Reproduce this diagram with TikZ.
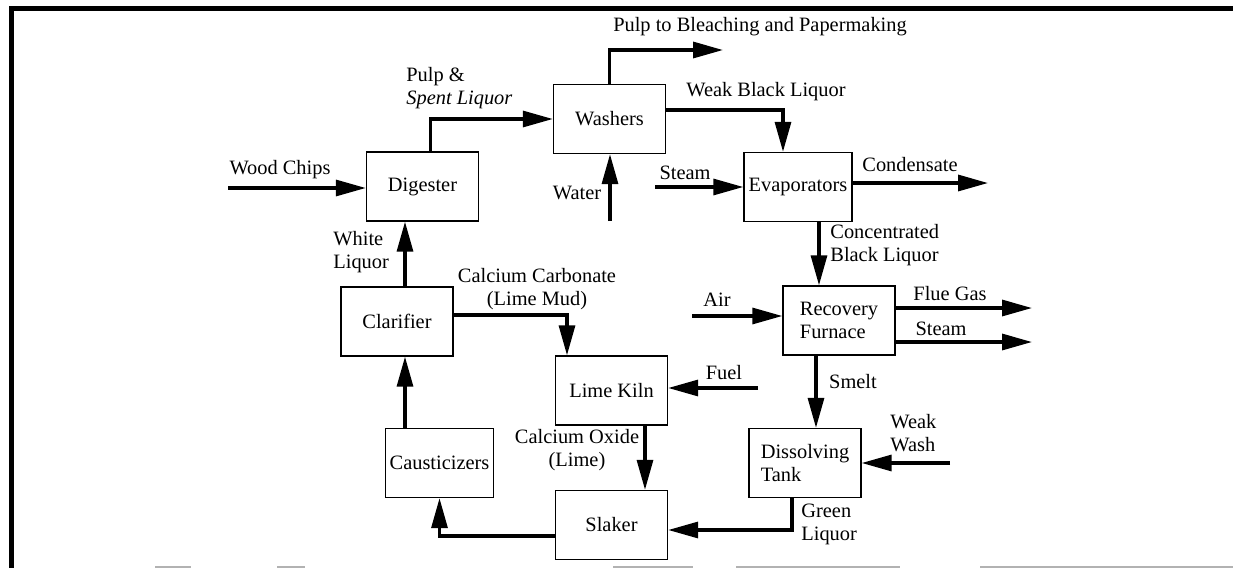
\documentclass[tikz,border=0pt]{standalone}
\usepackage{fontspec}
\setmainfont{Liberation Serif}
\usetikzlibrary{arrows.meta}

\begin{document}
\begin{tikzpicture}[x=0.5pt, y=-0.5pt,
    font=\fontsize{10.2}{11.5}\selectfont,
    unit/.style={draw, line width=0.7pt, minimum width=56pt, minimum height=34.5pt, inner sep=2pt, align=left},
    flow/.style={line width=1.6pt, -{Triangle[length=15pt,width=8pt]}},
    lbl/.style={inner sep=0pt, align=left}]
    \useasboundingbox (0,0) rectangle (1233,568);

    % Frame of the scanned figure
    \draw[line width=2.5pt] (11,568) -- (11,8) -- (1233,8);
    \foreach \a/\b in {155/191, 277/305, 613/693, 736/900, 980/1233} {
        \draw[gray!60, line width=1pt] (\a,566.5) -- (\b,566.5);
    }

    % Process units
    \node[unit] (dig)  at (422.5,186.5) {Digester};
    \node[unit] (wash) at (609.5,119)   {Washers};
    \node[unit, minimum width=54pt] (evap) at (798,187) {Evaporators};
    \node[unit] (rec)  at (839,320.5)   {Recovery\\Furnace};
    \node[unit] (clar) at (397,321.5)   {Clarifier};
    \node[unit] (kiln) at (611.5,390.5) {Lime Kiln};
    \node[unit, minimum width=53.5pt] (caus) at (439.5,463) {Causticizers};
    \node[unit] (slak) at (611.5,525)   {Slaker};
    \node[unit] (diss) at (805,463)     {Dissolving\\Tank};

    % Free ends of feeds and products
    \coordinate (wood)     at (228,188);
    \coordinate (pulpout)  at (723,50);
    \coordinate (water)    at (610,221);
    \coordinate (steamin)  at (655,187);
    \coordinate (cond)     at (988,183);
    \coordinate (air)      at (692,316);
    \coordinate (flue)     at (1032,308);
    \coordinate (steamout) at (1032,342);
    \coordinate (wwash)    at (950,463);
    \coordinate (fuel)     at (758,388);

    % Fibre line
    \draw[flow] (wood) -- (wood -| dig.west);
    \draw[flow] ([xshift=4pt]dig.north) |- (wash.west);
    \draw[flow] (wash.north) |- (pulpout);
    \draw[flow] (water) -- (water |- wash.south);
    \draw[flow] ([yshift=4.5pt]wash.east) -| ([xshift=-7.5pt]evap.north);

    % Recovery cycle
    \draw[flow] (steamin) -- (steamin -| evap.west);
    \draw[flow] (cond -| evap.east) -- (cond);
    \draw[flow] ([xshift=10.5pt]evap.south) -- ([xshift=10.5pt]evap.south |- rec.north);
    \draw[flow] (air) -- (air -| rec.west);
    \draw[flow] (flue -| rec.east) -- (flue);
    \draw[flow] (steamout -| rec.east) -- (steamout);
    \draw[flow] ([xshift=-11.5pt]rec.south) -- ([xshift=-11.5pt]rec.south |- diss.north);
    \draw[flow] (wwash) -- (wwash -| diss.east);
    \draw[flow] ([xshift=-6.5pt]diss.south) |- ([yshift=-2.5pt]slak.east);

    % Lime cycle
    \draw[flow] ([xshift=16.75pt]kiln.south) -- ([xshift=16.75pt]kiln.south |- slak.north);
    \draw[flow] (fuel) -- (fuel -| kiln.east);
    \draw[flow] ([yshift=3.25pt]clar.east) -| ([xshift=-22.25pt]kiln.north);
    \draw[flow] ([yshift=-5.5pt]slak.west) -| (caus.south);
    \draw[flow] ([xshift=-17.25pt]caus.north) -- ([xshift=-17.25pt]caus.north |- clar.south);
    \draw[flow] ([xshift=4pt]clar.north) -- ([xshift=4pt]clar.north |- dig.south);

    % Stream labels
    \node[lbl] (lwood)  at (280,170) {Wood Chips};
    \node[lbl, anchor=west] (lpulp) at (406,88) {Pulp \&\\\textit{Spent Liquor}};
    \node[lbl] (lbleach) at (760,27) {Pulp to Bleaching and Papermaking};
    \node[lbl] (lweak)  at (766,92)  {Weak Black Liquor};
    \node[lbl] (lwater) at (577,193) {Water};
    \node[lbl] (lsteam) at (685,173) {Steam};
    \node[lbl] (lcond)  at (910,165) {Condensate};
    \node[lbl, anchor=west] (lconc) at (830,245) {Concentrated\\Black Liquor};
    \node[lbl] (lair)   at (717,300) {Air};
    \node[lbl] (lflue)  at (950,294) {Flue Gas};
    \node[lbl] (lsteam2) at (941,329) {Steam};
    \node[lbl] (lsmelt) at (853,382) {Smelt};
    \node[lbl, anchor=west] (lwwash) at (890,433) {Weak\\Wash};
    \node[lbl, anchor=west] (lgreen) at (801,524) {Green\\Liquor};
    \node[lbl, align=center] (lcao) at (577,450) {Calcium Oxide\\(Lime)};
    \node[lbl] (lfuel)  at (724,373) {Fuel};
    \node[lbl, align=center] (lcaco) at (537,289) {Calcium Carbonate\\(Lime Mud)};
    \node[lbl, anchor=west] (lwhite) at (333,252) {White\\Liquor};

\end{tikzpicture}
\end{document}
